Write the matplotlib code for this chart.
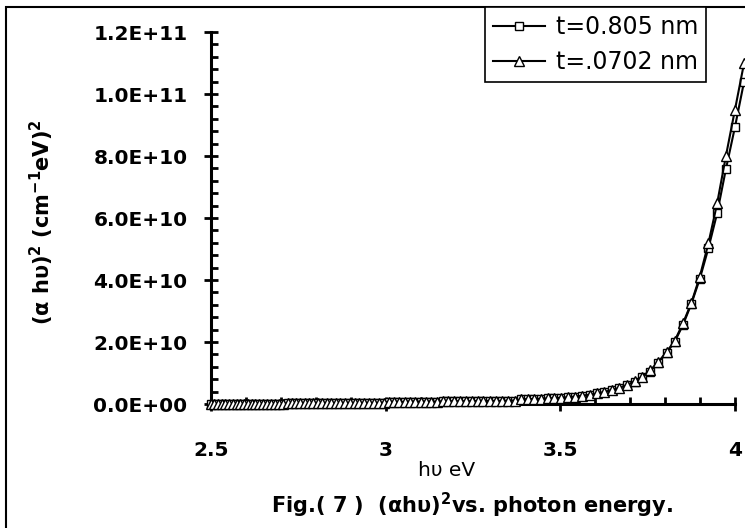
import numpy as np
import matplotlib
matplotlib.use("Agg")
import matplotlib.pyplot as plt
from matplotlib.patches import Rectangle
from matplotlib.ticker import MultipleLocator, FuncFormatter

# photon energy (eV), same grid for both films
energy = [2.500, 2.510, 2.520, 2.531, 2.541, 2.551, 2.562, 2.573, 2.583, 2.594,
          2.605, 2.616, 2.627, 2.638, 2.650, 2.661, 2.672, 2.684, 2.696, 2.707,
          2.719, 2.731, 2.743, 2.756, 2.768, 2.780, 2.793, 2.805, 2.818, 2.831,
          2.844, 2.857, 2.870, 2.884, 2.897, 2.911, 2.925, 2.938, 2.952, 2.967,
          2.981, 2.995, 3.010, 3.024, 3.039, 3.054, 3.069, 3.085, 3.100, 3.116,
          3.131, 3.147, 3.163, 3.179, 3.196, 3.212, 3.229, 3.246, 3.263, 3.280,
          3.298, 3.316, 3.333, 3.351, 3.370, 3.388, 3.407, 3.425, 3.444, 3.464,
          3.483, 3.503, 3.523, 3.543, 3.563, 3.584, 3.605, 3.626, 3.647, 3.669,
          3.690, 3.713, 3.735, 3.758, 3.780, 3.804, 3.827, 3.851, 3.875, 3.899,
          3.924, 3.949, 3.974, 4.000, 4.026]

# (alpha h nu)^2 in units of 1e10 cm^-1 eV ^2
t_0805 = [0.00, 0.00, 0.00, 0.00, 0.00, 0.00, 0.01, 0.01, 0.01, 0.01,
          0.01, 0.01, 0.01, 0.01, 0.01, 0.01, 0.01, 0.01, 0.01, 0.01,
          0.02, 0.02, 0.02, 0.02, 0.02, 0.02, 0.02, 0.02, 0.02, 0.02,
          0.02, 0.03, 0.03, 0.03, 0.03, 0.03, 0.03, 0.03, 0.03, 0.03,
          0.03, 0.04, 0.07, 0.07, 0.07, 0.07, 0.08, 0.08, 0.08, 0.08,
          0.08, 0.08, 0.09, 0.09, 0.09, 0.09, 0.09, 0.09, 0.10, 0.10,
          0.10, 0.10, 0.10, 0.11, 0.11, 0.15, 0.16, 0.16, 0.17, 0.18,
          0.19, 0.20, 0.22, 0.24, 0.27, 0.30, 0.34, 0.39, 0.45, 0.52,
          0.61, 0.72, 0.87, 1.04, 1.32, 1.65, 2.00, 2.55, 3.23, 4.03,
          5.03, 6.16, 7.58, 8.94, 10.4]

t_0702 = [0.00, 0.00, 0.00, 0.00, 0.00, 0.00, 0.01, 0.01, 0.01, 0.01,
          0.01, 0.01, 0.01, 0.01, 0.01, 0.01, 0.01, 0.01, 0.01, 0.01,
          0.02, 0.02, 0.02, 0.02, 0.02, 0.02, 0.02, 0.02, 0.02, 0.02,
          0.02, 0.03, 0.03, 0.03, 0.03, 0.03, 0.03, 0.03, 0.03, 0.03,
          0.03, 0.04, 0.07, 0.07, 0.07, 0.07, 0.08, 0.08, 0.08, 0.08,
          0.08, 0.08, 0.09, 0.09, 0.09, 0.09, 0.09, 0.09, 0.10, 0.10,
          0.10, 0.10, 0.10, 0.11, 0.11, 0.15, 0.16, 0.16, 0.17, 0.18,
          0.19, 0.20, 0.22, 0.24, 0.27, 0.30, 0.34, 0.39, 0.45, 0.52,
          0.61, 0.73, 0.88, 1.10, 1.35, 1.68, 2.03, 2.60, 3.26, 4.10,
          5.19, 6.48, 8.00, 9.50, 11.0]

labels = ['t=0.805 nm', 't=.0702 nm']
ytick_vals = [0, 2e10, 4e10, 6e10, 8e10, 1e11, 1.2e11]

W, H = 745, 528
fig = plt.figure(figsize=(W / 100, H / 100), dpi=100)
ax = fig.add_axes([211 / W, 1 - 404 / H, (735 - 211) / W, (404 - 32) / H])

x = np.array(energy)
ax.plot(x, np.array(t_0805) * 1e10, color='black', lw=1.5, marker='s', ms=6,
        mfc='white', mec='black', mew=1, clip_on=False, label=labels[0], zorder=3)
ax.plot(x, np.array(t_0702) * 1e10, color='black', lw=1.5, marker='^', ms=7,
        mfc='white', mec='black', mew=1, clip_on=False, label=labels[1], zorder=4)

ax.set_xlim(2.5, 4)
ax.set_ylim(0, 1.2e11)
for s in ['top', 'right']:
    ax.spines[s].set_visible(False)
for s in ['left', 'bottom']:
    ax.spines[s].set_linewidth(2.2)

ax.set_yticks(ytick_vals)
ax.yaxis.set_major_formatter(FuncFormatter(lambda v, p: '%.1E' % v))
ax.yaxis.set_minor_locator(MultipleLocator(4e9))
ax.xaxis.set_major_locator(MultipleLocator(0.5))
ax.xaxis.set_major_formatter(FuncFormatter(lambda v, p: ('%g' % v)))
ax.xaxis.set_minor_locator(MultipleLocator(0.1))

ax.tick_params(which='major', direction='inout', length=10, width=2, labelsize=14.5)
ax.tick_params(which='minor', direction='in', length=5, width=2)
ax.tick_params(axis='y', which='major', pad=12)
ax.tick_params(axis='x', which='major', pad=22)
for lab in ax.get_xticklabels() + ax.get_yticklabels():
    lab.set_fontweight('bold')

fig.text(447 / W, 1 - 470 / H, 'h\u03c5 eV', ha='center', va='center', fontsize=14.5)
fig.text(472 / W, 1 - 505 / H, r'Fig.( 7 )  ($\mathbf{\alpha}$h$\mathbf{\upsilon}$)$^{\mathbf{2}}$vs. photon energy.',
         ha='center', va='center', fontsize=15, fontweight='bold')
fig.text(42 / W, 1 - 222 / H, r'($\mathbf{\alpha}$ h$\mathbf{\upsilon}$)$^{\mathbf{2}}$ (cm$^{\mathbf{-1}}$eV)$^{\mathbf{2}}$',
         ha='center', va='center', rotation=90, fontsize=15, fontweight='bold')

# outer chart border (right and bottom edges fall outside the picture)
fig.patches.append(Rectangle((6 / W, -0.1), 1.2, 1.1 - 7 / H, transform=fig.transFigure,
                             fill=False, edgecolor='black', lw=1.5))

leg = fig.legend(loc='upper left', bbox_to_anchor=(485 / W, 1 - 7 / H), fontsize=17,
                 frameon=True, fancybox=False, edgecolor='black', framealpha=1,
                 handlelength=2.2, borderpad=0.35, labelspacing=0.45, handletextpad=0.45,
                 borderaxespad=0)
leg.get_frame().set_linewidth(1.2)

fig.savefig('out.png', dpi=100)
